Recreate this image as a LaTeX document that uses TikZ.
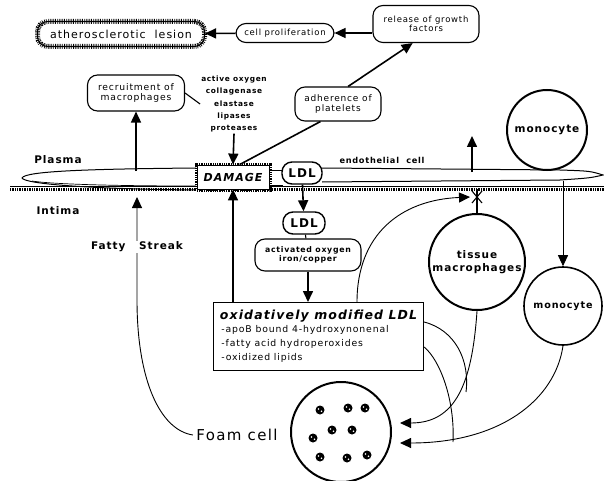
\documentclass[tikz,border=0pt]{standalone}
\usepackage{fontspec}
\newfontfamily\lab{DejaVu Sans}[LetterSpace=9]
\usetikzlibrary{arrows.meta,positioning}

\newcommand{\fs}[1]{\fontsize{#1}{#1}\selectfont}

\begin{document}
\begin{tikzpicture}[x=1pt,y=-1pt,>={Triangle[length=11pt,width=10pt]},
	pill/.style={draw,line width=1.1pt,rounded corners=10pt,align=center,inner sep=2pt},
	hatchring/.style={preaction={draw,line width=5pt,dash pattern=on 0.7pt off 1.1pt}},
	cell/.style={draw,circle,line width=2pt,align=center,inner sep=0pt},
	word/.style={font=\lab\bfseries\fs{10.5}},
	flow/.style={->,line width=1.6pt},
	feed/.style={->,line width=0.9pt}]
	\useasboundingbox (0,0) rectangle (604,481);

	% the membrane
	\draw[line width=1pt] (196,168) .. controls (90,169) and (25,171) .. (22,178)
		.. controls (25,184) and (90,189) .. (196,190);
	\draw[line width=0.7pt] (196,186) .. controls (110,186) and (50,184) .. (32,181);
	\draw[line width=1pt] (322,168) -- (560,170) .. controls (590,171) .. (603,175)
		.. controls (590,178) .. (560,180) -- (322,182);
	\draw[line width=0.9pt] (10,186) -- (604,186);
	\draw[line width=3pt,dash pattern=on 0.6pt off 1.1pt] (10,189) -- (604,189);
	\draw[line width=0.8pt] (270,170) -- (283,170) (270,185) -- (283,185);

	% nodes
	\node[pill,hatchring,minimum width=167pt,minimum height=25pt,font=\lab\fs{11}] (lesion) at (121,34) {atherosclerotic\ \ lesion};
	\node[pill,minimum width=98pt,minimum height=19pt,font=\lab\fs{8.5}] (prolif) at (285,33) {cell proliferation};
	\node[pill,minimum width=106pt,minimum height=37pt,font=\lab\fs{8.5}] (growth) at (426,24) {release of growth\\[1pt]factors};
	\node[pill,minimum width=97pt,minimum height=36pt,font=\lab\fs{9.2}] (recruit) at (136,93) {recruitment of\\[1pt]macrophages};
	\node[align=center,font=\lab\bfseries\fs{7.4},inner sep=1pt] (agents) at (234,104)
		{active oxygen\\[5pt]collagenase\\[5pt]elastase\\[5pt]lipases\\[5pt]proteases};
	\node[pill,minimum width=86pt,minimum height=34pt,font=\lab\fs{9}] (adher) at (338,104) {adherence of\\[1pt]platelets};
	\node[cell,minimum size=80pt,font=\lab\bfseries\fs{10.5}] (monoA) at (547,130) {monocyte};

	\node[word] (plasma) at (58,160) {Plasma};
	\node[word] (intima) at (58,211) {Intima};
	\node[draw,fill=white,hatchring,line width=0.8pt,minimum width=72pt,minimum height=24pt,
		font=\lab\bfseries\itshape\fs{11}] (damage) at (233,177) {DAMAGE};
	\node[pill,fill=white,line width=1.4pt,minimum width=40pt,minimum height=22pt,font=\lab\bfseries\fs{12}] (ldlA) at (302,173) {LDL};
	\node[word,font=\lab\bfseries\fs{8.2}] (endo) at (382,160) {endothelial\ \ cell};

	\node[pill,line width=1.4pt,minimum width=42pt,minimum height=22pt,font=\lab\bfseries\fs{12}] (ldlB) at (304,223) {LDL};
	\node[pill,minimum width=106pt,minimum height=32pt,font=\lab\bfseries\fs{7.8}] (activ) at (308,255) {activated oxygen\\[1pt]iron/copper};
	\node[draw,line width=1.1pt,minimum width=210pt,minimum height=68pt,align=left,anchor=north west,
		inner sep=3pt] (modbox) at (213,302)
		{{\lab\bfseries\itshape\fs{12.5}oxidatively modified LDL}\\[1pt]
		 {\lab\fs{9.3}\,-apoB bound 4-hydroxynonenal}\\[2pt]
		 {\lab\fs{9.3}\,-fatty acid hydroperoxides}\\[2pt]
		 {\lab\fs{9.3}\,-oxidized lipids}};

	\node[cell,minimum size=96pt,font=\lab\bfseries\fs{10.5}] (tissue) at (477,262) {tissue\\[2pt]macrophages};
	\node[cell,line width=1.6pt,minimum size=78pt,font=\lab\bfseries\fs{9.6}] (monoB) at (563,306) {monocyte};
	\node[cell,minimum size=100pt] (foam) at (341,432) {};
	\node[font=\lab\fs{15}] (foamlab) at (237,435) {Foam cell};

	% points on the membrane
	\coordinate (mrec) at (136,171);
	\coordinate (mfat) at (137,197);
	\coordinate (mup) at (472,172);
	\coordinate (mtop) at (472,136);
	\coordinate (mtis) at (477,189);
	\coordinate (xmark) at (477,197);
	\coordinate (xtip) at (470,197);
	\coordinate (mmono) at (563,181);
	\coordinate (ox) at (357,302);
	\coordinate (tipup) at (400,423);
	\coordinate (tiplow) at (400,443);
	\coordinate (upperjoin) at (466,392);
	\coordinate (lowerjoin) at (453,442);

	% upper part
	\draw[flow] (growth.west |- prolif) -- (prolif.east);
	\draw[flow] (prolif) -- (lesion);
	\draw[flow] (adher.60) -- (growth.235);
	\draw[line width=1.6pt] (damage.62) -- (adher.225);
	\draw[line width=1.1pt] (recruit.east) -- (agents.west);
	\draw[flow] (agents.south) -- (damage.north);
	\draw[flow] (mrec) -- (recruit.south);
	\draw[flow] (mup) -- (mtop);

	% lower part
	\draw[flow] (ldlA) -- (ldlB);
	\draw[line width=1.1pt] (ldlB) -- (activ);
	\draw[flow] (activ) -- (modbox.north -| activ);
	\draw[flow] (damage.south |- modbox.north) -- (damage.south);
	\draw[feed] (foamlab.west) .. controls (160,430) and (137,380) .. (137,300) -- (mfat);
	\node[word,fill=white,inner sep=1pt] (streak) at (137,247) {Fatty\ \ \ Streak};
	\draw[feed] (ox) .. controls (357,235) and (400,200) .. (xtip);
	\draw[line width=1.1pt] (tissue.north) -- (mtis);
	\draw[line width=1.1pt] (xmark) +(-5,-6) -- +(5,6) +(-5,6) -- +(5,-6);
	\draw[feed] (mmono) -- (monoB.north);

	\draw[feed] (tissue.south) .. controls (472,385) and (455,423) .. (tipup);
	\draw[feed] (monoB.south) .. controls (555,400) and (500,443) .. (tiplow);
	\draw[line width=0.9pt] (modbox.east |- 0,322) .. controls (455,330) and (470,360) .. (upperjoin);
	\draw[line width=0.9pt] (modbox.east |- 0,347) .. controls (440,360) and (455,400) .. (lowerjoin);

	% lipid droplets in the foam cell
	\foreach \dx/\dy in {-21/-22, 7/-24, 24/-24, -9/-2, 11/-2, -28/6, -21/25, 6/26, 26/23} {
		\fill (foam) ++(\dx,\dy) circle (4.5pt);
		\fill[white] (foam) ++(\dx-1.5,\dy-1) circle (0.9pt) (foam) ++(\dx+1.5,\dy+1.2) circle (0.9pt);
	};
\end{tikzpicture}
\end{document}
